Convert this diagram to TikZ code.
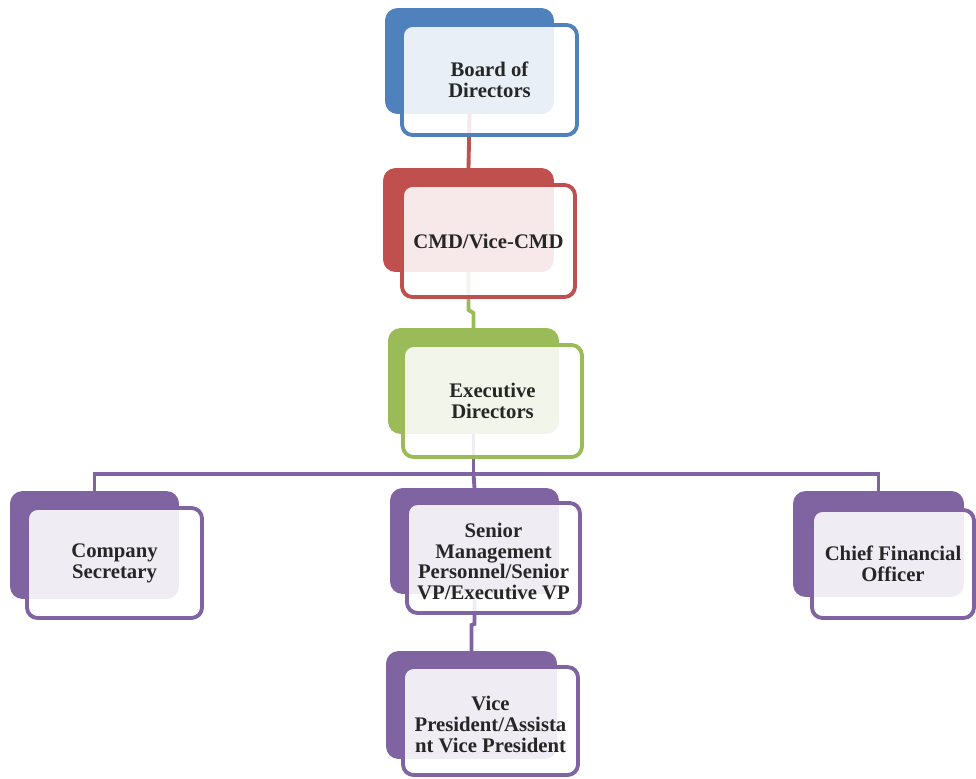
\documentclass[tikz,border=0pt]{standalone}
\usepackage{fontspec}
\setmainfont{Liberation Serif}
\usetikzlibrary{fit,calc}
\definecolor{cblue}{HTML}{4F81BD}
\definecolor{cred}{HTML}{C0504D}
\definecolor{cgreen}{HTML}{9BBB59}
\definecolor{cpurple}{HTML}{8064A2}
\definecolor{ctext}{HTML}{262626}
\begin{document}
\begin{tikzpicture}[x=0.02cm,y=-0.02cm,
  backbox/.style={fill=#1, draw=#1, line width=2.2pt, rounded corners=6pt, inner sep=0pt},
  frontbox/.style={fill=white, fill opacity=0.88, draw=#1, draw opacity=1, line width=2.2pt, rounded corners=6pt, inner sep=0pt},
  lbl/.style={font=\fontsize{11.8}{11.8}\selectfont\bfseries, text=ctext, align=center},
  conn/.style={line width=2.2pt, draw=#1}]
\useasboundingbox (0,0) rectangle (976,778);
% back boxes
\node[backbox=cblue, fit={(387,10) (552,112)}] (bb) {};
\node[backbox=cred, fit={(385,170) (552,270)}] (cb) {};
\node[backbox=cgreen, fit={(390,330) (557,432)}] (eb) {};
\node[backbox=cpurple, fit={(12,493) (177,597)}] (csb) {};
\node[backbox=cpurple, fit={(392,490) (557,592)}] (sb) {};
\node[backbox=cpurple, fit={(795,493) (962,595)}] (cfb) {};
\node[backbox=cpurple, fit={(388,653) (555,757)}] (vb) {};
% connectors
\draw[conn=cred] (bb.south) -- (cb.north);
\draw[conn=cgreen] (cb.south) -- ++(0,38) -- ($(eb.north)+(0,-15)$) -- (eb.north);
\draw[conn=cpurple] (eb.south) -- ++(0,40) coordinate (bus);
\draw[conn=cpurple] (csb.north) |- (bus) -| (cfb.north);
\draw[conn=cpurple] (bus) -- (sb.north);
\draw[conn=cpurple] (sb.south) -- ++(0,30) -- ($(vb.north)+(0,-26)$) -- (vb.north);
% front boxes
\node[frontbox=cblue, fit={(402,25) (577,135)}] (bf) {};
\node[frontbox=cred, fit={(402,185) (575,297)}] (cf) {};
\node[frontbox=cgreen, fit={(403,345) (582,457)}] (ef) {};
\node[frontbox=cpurple, fit={(27,508) (202,618)}] (csf) {};
\node[frontbox=cpurple, fit={(407,503) (580,613)}] (sf) {};
\node[frontbox=cpurple, fit={(812,510) (974,618)}] (cff) {};
\node[frontbox=cpurple, fit={(403,667) (578,775)}] (vf) {};
% labels
\node[lbl] (bt) at (bf.center) {Board of\\Directors};
\node[lbl] (ct) at (cf.center) {CMD/Vice-CMD};
\node[lbl] (et) at (ef.center) {Executive\\Directors};
\node[lbl] (cst) at (csf.center) {Company\\Secretary};
\node[lbl] (st) at ([yshift=-2pt]sf.center) {Senior\\Management\\Personnel/Senior\\VP/Executive VP};
\node[lbl] (cft) at (cff.center) {Chief Financial\\Officer};
\node[lbl] (vt) at ([yshift=-2pt]vf.center) {Vice\\President/Assista\\nt Vice President};
\end{tikzpicture}
\end{document}
